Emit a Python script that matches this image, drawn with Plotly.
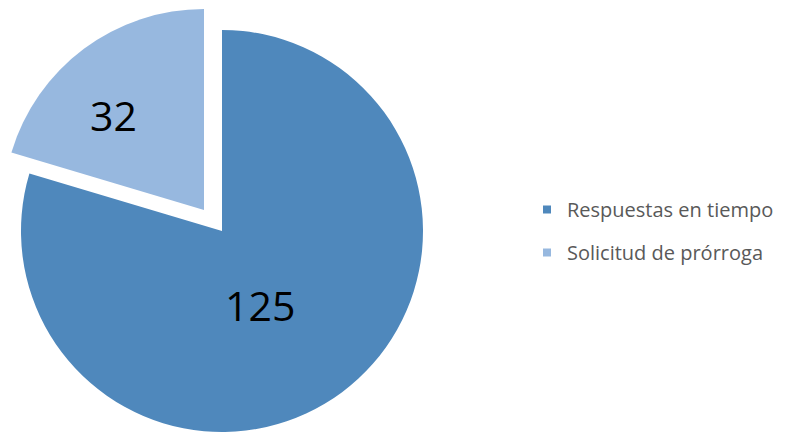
import plotly.graph_objects as go

labels = ["Respuestas en tiempo", "Solicitud de prórroga"]
values = [125, 32]
colors = ["#4F88BC", "#97B8DF"]

W, H = 785, 433

def dom_x(cx, r):
    return [(cx - r) / W, (cx + r) / W]

def dom_y(cy, r):
    b = H - cy
    return [(b - r) / H, (b + r) / H]

fig = go.Figure()

# main slice (pie body)
fig.add_trace(go.Pie(
    labels=labels, values=values, sort=False, direction="clockwise", rotation=0,
    marker=dict(colors=[colors[0], "rgba(0,0,0,0)"], line=dict(width=0)),
    textinfo="none",
    domain=dict(x=dom_x(222, 201), y=dom_y(231, 201)),
    showlegend=False, hoverinfo="skip",
))
# exploded slice
fig.add_trace(go.Pie(
    labels=labels, values=values, sort=False, direction="clockwise", rotation=0,
    marker=dict(colors=["rgba(0,0,0,0)", colors[1]], line=dict(width=0)),
    textinfo="none",
    domain=dict(x=dom_x(204, 201), y=dom_y(210, 201)),
    showlegend=False, hoverinfo="skip",
))

for lab, col in zip(labels, colors):
    fig.add_trace(go.Scatter(
        x=[None], y=[None], mode="markers", name=lab, legendgroup=lab,
        marker=dict(symbol="square", size=8, color=col),
    ))

# data labels
label_pos = [(259.5, 305), (113, 115)]
for v, (px, py) in zip(values, label_pos):
    fig.add_annotation(
        text=str(v), x=px / W, y=1 - py / H, xref="paper", yref="paper",
        xanchor="center", yanchor="middle", showarrow=False,
        font=dict(family="Open Sans", size=41, color="black"),
    )

fig.update_layout(
    width=W, height=H,
    margin=dict(l=0, r=0, t=0, b=0),
    paper_bgcolor="white", plot_bgcolor="white",
    xaxis=dict(visible=False), yaxis=dict(visible=False),
    legend=dict(
        x=527 / W, y=1 - 231 / H, xanchor="left", yanchor="middle",
        font=dict(family="Open Sans", size=20, color="#595959"),
        tracegroupgap=14, bgcolor="rgba(0,0,0,0)",
    ),
)

fig.write_html("out.html", config={"displayModeBar": False},
               post_script="document.body.style.margin='0px';")
